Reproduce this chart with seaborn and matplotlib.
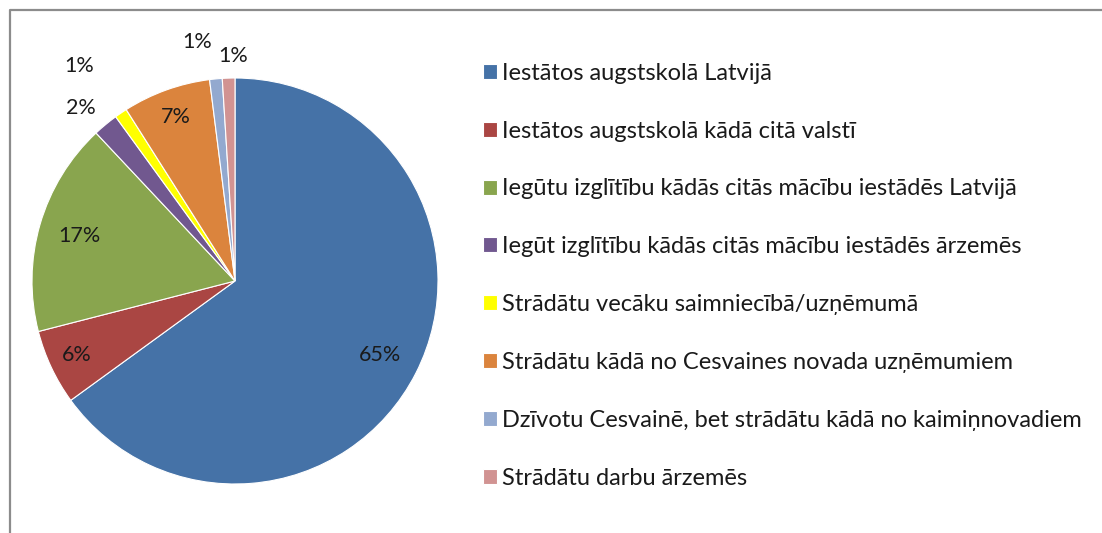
import matplotlib
matplotlib.use("Agg")
import matplotlib.pyplot as plt
import seaborn as sns
import numpy as np
from matplotlib.lines import Line2D

categories = [
    "Iestātos augstskolā Latvijā",
    "Iestātos augstskolā kādā citā valstī",
    "Iegūtu izglītību kādās citās mācību iestādēs Latvijā",
    "Iegūt izglītību kādās citās mācību iestādēs ārzemēs",
    "Strādātu vecāku saimniecībā/uzņēmumā",
    "Strādātu kādā no Cesvaines novada uzņēmumiem",
    "Dzīvotu Cesvainē, bet strādātu kādā no kaimiņnovadiem",
    "Strādātu darbu ārzemēs",
]
values = [65, 6, 17, 2, 1, 7, 1, 1]
colors = ["#4572A7", "#AA4643", "#89A54E", "#71588F", "#FFFF00", "#DB843D", "#93A9CF", "#D19392"]
# percentage label placement: radial distance (fraction of radius) and angular nudge (deg)
label_dist = [0.80, 0.86, 0.80, 1.14, 1.31, 0.86, 1.19, 1.11]
label_nudge = [0, 0, 0, 2.0, 1.8, 0, 3.6, -1.4]

sns.set_theme(style="white")
plt.rcParams['font.family'] = ['Lato', 'DejaVu Sans']
palette = sns.color_palette(colors)

W, H = 1102, 533
fig = plt.figure(figsize=(W / 100, H / 100), dpi=100)
cx, cy, r = 235, 281, 203
ax = fig.add_axes([(cx - r) / W, (H - cy - r) / H, 2 * r / W, 2 * r / H])
wedges, _ = ax.pie(values, colors=palette, startangle=90, counterclock=False,
                   radius=1.0, wedgeprops=dict(edgecolor="white", linewidth=0.8))
ax.set_xlim(-1, 1)
ax.set_ylim(-1, 1)
ax.set_aspect("equal")
ax.axis("off")

for w, v, d, n in zip(wedges, values, label_dist, label_nudge):
    ang = np.deg2rad((w.theta1 + w.theta2) / 2 + n)
    ax.text(d * np.cos(ang), d * np.sin(ang), f"{v}%", ha="center", va="center",
            fontsize=15.5, color="#1a1a1a", clip_on=False)

leg = fig.legend(wedges, categories, loc="upper left",
                 bbox_to_anchor=(471 / W, 1 - 51 / H), frameon=False,
                 fontsize=17, handlelength=0.6, handleheight=0.6,
                 handletextpad=0.22, labelspacing=1.56, borderpad=0)
for t in leg.get_texts():
    t.set_color("#1a1a1a")

# chart frame (top and left edges visible)
fig.add_artist(Line2D([10 / W, 10 / W, 1.0], [0.0, 1 - 10 / H, 1 - 10 / H],
                      transform=fig.transFigure, color="#8c8c8c", linewidth=1.6))

fig.savefig("out.png", dpi=100)
